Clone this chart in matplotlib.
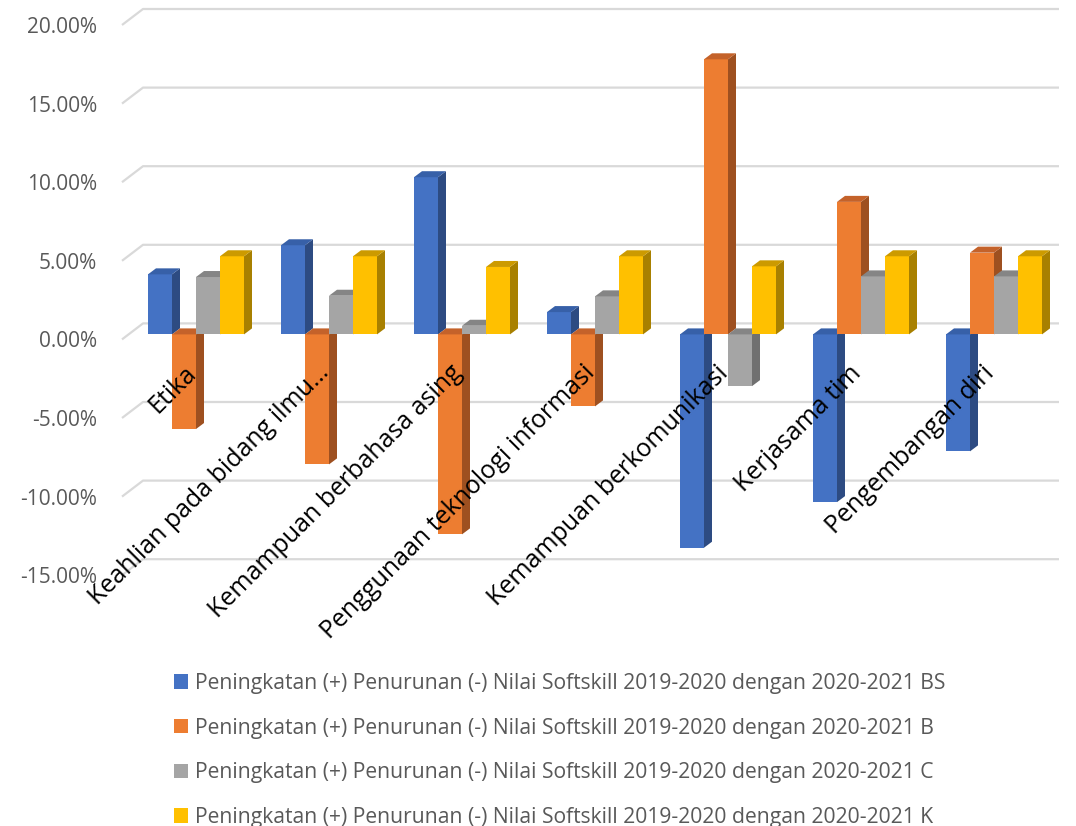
import matplotlib
matplotlib.use('Agg')
import matplotlib.pyplot as plt
from matplotlib.patches import Polygon, Patch

plt.rcParams['font.family'] = ['Open Sans', 'DejaVu Sans']

# Data (percent)
categories = ['Etika', 'Keahlian pada bidang ilmu\u2026', 'Kemampuan berbahasa asing',
              'Penggunaan teknologi informasi', 'Kemampuan berkomunikasi',
              'Kerjasama tim', 'Pengembangan diri']
series_names = ['Peningkatan (+) Penurunan (-) Nilai Softskill 2019-2020 dengan 2020-2021 BS',
                'Peningkatan (+) Penurunan (-) Nilai Softskill 2019-2020 dengan 2020-2021 B',
                'Peningkatan (+) Penurunan (-) Nilai Softskill 2019-2020 dengan 2020-2021 C',
                'Peningkatan (+) Penurunan (-) Nilai Softskill 2019-2020 dengan 2020-2021 K']
bs = [3.82, 5.67, 10.0, 1.42, -13.57, -10.67, -7.44]
b = [-6.02, -8.27, -12.72, -4.58, 17.5, 8.43, 5.2]
c = [3.65, 2.46, 0.55, 2.42, -3.29, 3.69, 3.69]
k = [4.97, 4.97, 4.29, 4.97, 4.33, 4.97, 4.97]
y_ticks = [-15, -10, -5, 0, 5, 10, 15, 20]

values = [bs, b, c, k]
# front, top, side colours
colors = [('#4472C4', '#3760A8', '#2D4B82'),
          ('#ED7D31', '#C4622A', '#9E5020'),
          ('#A5A5A5', '#858585', '#707070'),
          ('#FFC000', '#CC9A00', '#A88000')]

W, H = 1076, 826
fig = plt.figure(figsize=(W / 100, H / 100), dpi=100)
left, right, top, bottom = 122, 1053, 25, 575.2
ax = fig.add_axes([left / W, 1 - bottom / H, (right - left) / W, (bottom - top) / H])
ax.set_xlim(-0.5, len(categories) - 0.5)
ax.set_ylim(-15, 20)
ppx = (right - left) / len(categories)   # pixels per category
ppy = (bottom - top) / 35.0              # pixels per percent

def px(dx, dy):
    return dx / ppx, dy / ppy

# back wall gridlines (oblique)
bx, by = px(21, 16)
x_end = -0.5 + (1059 - left) / ppx
for v in y_ticks:
    ax.plot([-0.5, -0.5 + bx, x_end], [v, v + by, v + by], color='#D9D9D9',
            lw=1.6, clip_on=False, zorder=1, solid_capstyle='butt')

# bars with depth
ox, oy = px(7.5, 5)
dx, dy = px(8, 6)
bw = 24 / ppx
for i in range(len(categories)):
    for j, vals in enumerate(values):
        v = vals[i]
        x0 = i - 2 * bw + j * bw + ox
        x1 = x0 + bw
        y0, y1 = oy, v + oy
        fc, tc, sc = colors[j]
        ytop = max(y0, y1)
        ax.add_patch(Polygon([(x0, y0), (x1, y0), (x1, y1), (x0, y1)], closed=True,
                             fc=fc, ec='none', zorder=2))
        ax.add_patch(Polygon([(x1, y0), (x1 + dx, y0 + dy), (x1 + dx, y1 + dy), (x1, y1)],
                             closed=True, fc=sc, ec='none', zorder=2))
        ax.add_patch(Polygon([(x0, ytop), (x1, ytop), (x1 + dx, ytop + dy), (x0 + dx, ytop + dy)],
                             closed=True, fc=tc, ec='none', zorder=2))

# category labels
lx, ly = px(-5, -21)
for i, name in enumerate(categories):
    ax.text(i + lx, ly, name, rotation=45, rotation_mode='anchor', ha='right', va='top',
            fontsize=18, color='black', zorder=3)

ax.set_xticks([])
ax.set_yticks(y_ticks)
ax.set_yticklabels(['%.2f%%' % t for t in y_ticks], fontsize=15, color='#595959')
ax.tick_params(axis='y', length=0, pad=18)
for s in ax.spines.values():
    s.set_visible(False)
ax.patch.set_alpha(0)

handles = [Patch(fc=cl[0], ec='none') for cl in colors]
fig.legend(handles, series_names, loc='upper left', bbox_to_anchor=(174 / W, 1 - 673 / H),
           frameon=False, fontsize=15.2, handlelength=0.66, handleheight=0.66,
           handletextpad=0.33, labelspacing=1.12, borderpad=0, borderaxespad=0,
           labelcolor='#595959')

fig.savefig('out.png', dpi=100)
